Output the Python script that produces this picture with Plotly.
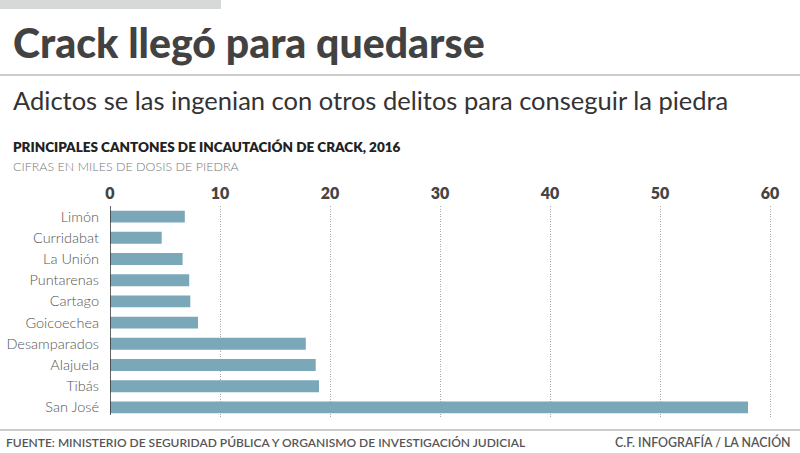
import plotly.graph_objects as go

cantones = ["Limón", "Curridabat", "La Unión", "Puntarenas", "Cartago",
            "Goicoechea", "Desamparados", "Alajuela", "Tibás", "San José"]
dosis_miles = [6.8, 4.7, 6.6, 7.2, 7.3, 8.0, 17.8, 18.7, 19.0, 58.0]
tick_vals = [0, 10, 20, 30, 40, 50, 60]

W, H = 800, 453
L, R, T, B = 110, 19, 206, 35
PW, PH = W - L - R, H - T - B

def px(x):
    return (x - L) / PW

def py(y):
    return (H - B - y) / PH

FONT = "Lato"
DARK = "#444444"
GRAY = "#555555"

fig = go.Figure(go.Bar(
    x=dosis_miles, y=cantones, orientation="h",
    marker=dict(color="#7ba8b9", line=dict(width=0)),
    width=0.56, hoverinfo="skip",
))

fig.update_layout(
    width=W, height=H,
    margin=dict(l=L, r=R, t=T, b=B, autoexpand=False),
    paper_bgcolor="white", plot_bgcolor="white",
    showlegend=False,
    font=dict(family=FONT, color=GRAY),
    xaxis=dict(
        side="top", range=[0, 61], tickvals=tick_vals, automargin=False,
        showgrid=True, gridcolor="#a8a8a8", griddash="1px,1.5px", gridwidth=1,
        zeroline=False, showline=False, ticks="",
        ticklabelstandoff=3,
        tickfont=dict(family=FONT, size=16, color=DARK, weight=800),
        fixedrange=True,
    ),
    yaxis=dict(
        categoryorder="array", categoryarray=cantones, autorange="reversed",
        automargin=False,
        showgrid=False, zeroline=False, showline=False, ticks="",
        ticklabelstandoff=10,
        tickfont=dict(family=FONT, size=14.5, color=GRAY, weight=300),
        fixedrange=True,
    ),
)

shapes = [
    # top gray bar
    dict(type="rect", xref="paper", yref="paper", x0=px(0), x1=px(221),
         y0=py(0), y1=py(9), fillcolor="#d7d9d8", line=dict(width=0), layer="above"),
    # header divider
    dict(type="line", xref="paper", yref="paper", x0=px(0), x1=px(800),
         y0=py(75), y1=py(75), line=dict(color="#bbbbbb", width=1.5)),
    # footer divider
    dict(type="line", xref="paper", yref="paper", x0=px(0), x1=px(800),
         y0=py(430), y1=py(430), line=dict(color="#bbbbbb", width=1.5)),
    # zero axis line
    dict(type="line", xref="x", yref="paper", x0=0, x1=0,
         y0=py(415), y1=py(206), line=dict(color="#333333", width=1.5)),
]
fig.update_layout(shapes=shapes)

def ann(text, x, y, size, color, weight=400, xanchor="left"):
    return dict(text=text, xref="paper", yref="paper", x=px(x), y=py(y),
                xanchor=xanchor, yanchor="middle", showarrow=False,
                font=dict(family=FONT, size=size, color=color, weight=weight))

fig.update_layout(annotations=[
    ann("Crack llegó para quedarse", 11, 42, 41, "#424242", 900),
    ann("Adictos se las ingenian con otros delitos para conseguir la piedra", 11, 100, 25.5, "#333333", 400),
    ann("PRINCIPALES CANTONES DE INCAUTACIÓN DE CRACK, 2016", 11, 147, 13.5, "#222222", 800),
    ann("CIFRAS EN MILES DE DOSIS DE PIEDRA", 11, 166, 12.5, "#777777", 300),
    ann("FUENTE: MINISTERIO DE SEGURIDAD PÚBLICA Y ORGANISMO DE INVESTIGACIÓN JUDICIAL", 4, 442, 12, GRAY, 600),
    ann("C.F. INFOGRAFÍA / LA NACIÓN", 793, 442, 12.4, GRAY, 600, xanchor="right"),
])

fig.write_html("out.html", config={"displayModeBar": False},
               post_script="document.body.style.margin='0';document.body.style.overflow='hidden';")
